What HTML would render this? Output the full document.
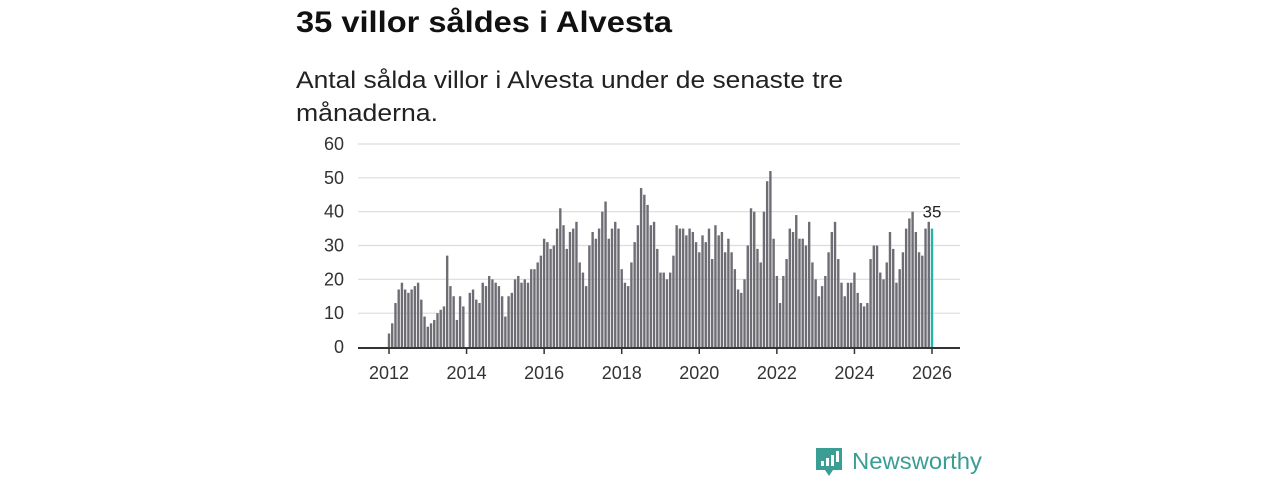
<!DOCTYPE html>
<html><head><meta charset="utf-8"><style>
html,body{margin:0;padding:0;background:#fff;width:1280px;height:480px;overflow:hidden}
svg{display:block;font-family:"Liberation Sans",sans-serif}
</style></head><body>
<svg id="chart" width="1280" height="480" viewBox="0 0 1280 480">
<text x="296" y="32" font-size="30" font-weight="bold" fill="#111" textLength="376" lengthAdjust="spacingAndGlyphs">35 villor såldes i Alvesta</text>
<text x="296" y="88" font-size="24" fill="#222" textLength="547" lengthAdjust="spacingAndGlyphs">Antal sålda villor i Alvesta under de senaste tre</text>
<text x="296" y="121" font-size="24" fill="#222" textLength="142" lengthAdjust="spacingAndGlyphs">månaderna.</text>
<g id="grid"></g>
<g id="bars"></g>
<g id="axes"></g>
<g>
<path d="M816 448 h26 v22 h-9 l-4 6 l-4 -6 h-9 z" fill="#3a9e95"/>
<rect x="821" y="461" width="3" height="5" fill="#fff"/>
<rect x="826" y="458" width="3" height="8" fill="#fff"/>
<rect x="831" y="455" width="3" height="11" fill="#fff"/>
<rect x="836" y="451" width="3" height="11" fill="#fff"/>
<text x="852" y="469" font-size="23" fill="#3a9e95" textLength="130" lengthAdjust="spacingAndGlyphs">Newsworthy</text>
</g>
</svg>
<script>
const startYear = 2012;
const values = [4,7,13,17,19,17,16,17,18,19,14,9,6,7,8,10,11,12,27,18,15,8,15,12,
0,16,17,14,13,19,18,21,20,19,18,15,9,15,16,20,21,19,20,19,23,23,25,27,
32,31,29,30,35,41,36,29,34,35,37,25,
22,18,30,34,32,35,40,43,32,35,37,35,23,19,18,25,31,36,47,45,
42,36,37,29,22,22,20,22,27,36,35,35,33,35,34,31,28,33,31,35,
26,36,33,34,28,32,28,23,17,16,20,30,41,40,29,25,40,49,52,
32,21,13,21,26,35,34,39,32,32,30,37,25,20,15,18,21,28,34,37,
26,19,15,19,19,22,16,13,12,13,26,30,30,22,20,25,34,29,19,23,
28,35,38,40,34,28,27,35,37,35];
const yTicks = [0,10,20,30,40,50,60];
const xTicks = [2012,2014,2016,2018,2020,2022,2024,2026];

const NS='http://www.w3.org/2000/svg';
const X0=389, X1=932, Y0=347, Y1=144, YMAX=60;
const xm = m => X0 + m*(X1-X0)/168;
const xy = yr => xm((yr-startYear)*12);
const ys = v => Y0 - v*(Y0-Y1)/YMAX;
function mk(tag, attrs, parent){const e=document.createElementNS(NS,tag);for(const k in attrs)e.setAttribute(k,attrs[k]);parent.appendChild(e);return e;}
const grid=document.getElementById('grid'), bars=document.getElementById('bars'), axes=document.getElementById('axes');
yTicks.forEach(t=>{
  if(t>0){const l=mk('line',{x1:358,x2:960,y1:ys(t),y2:ys(t),stroke:'#dcdcdc','stroke-width':1.2},grid);
  
  }
  const tx=mk('text',{x:344,y:ys(t)+6,'text-anchor':'end','font-size':18,fill:'#333'},axes);
  tx.textContent=t;
  
  
});
values.forEach((v,i)=>{
  const last=i===values.length-1;
  const r=mk('rect',{x:xm(i)-1.2,y:ys(v),width:2.4,height:Y0-ys(v),fill:last?'#27b3a8':'#6e6d74'},bars);
  
  
});
const lv=values[values.length-1];
const lab=mk('text',{x:xm(values.length-1),y:ys(lv)-11,'text-anchor':'middle','font-size':17,fill:'#222'},axes);
lab.textContent=lv;


const base=mk('line',{x1:358,x2:960,y1:Y0+1,y2:Y0+1,stroke:'#333','stroke-width':2},axes);


xTicks.forEach(yr=>{
  const tk=mk('line',{x1:xy(yr),x2:xy(yr),y1:Y0+1,y2:Y0+7,stroke:'#333','stroke-width':1.5},axes);
  
  
  const tx=mk('text',{x:xy(yr),y:Y0+32,'text-anchor':'middle','font-size':18,fill:'#333'},axes);
  tx.textContent=yr;
  
  
});
</script>
</body></html>
